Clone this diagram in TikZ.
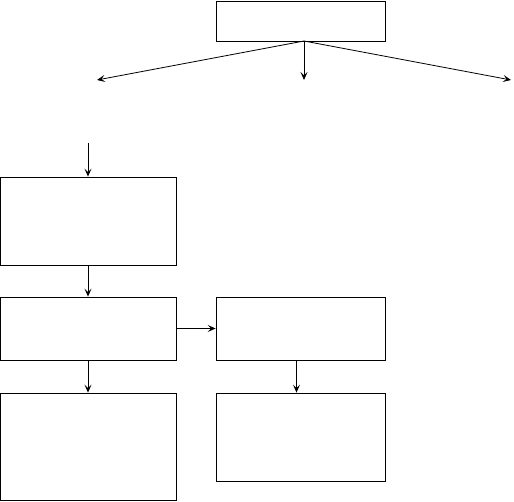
\documentclass[tikz,border=0pt]{standalone}
\usepackage{tikz}
\usetikzlibrary{positioning,arrows.meta}

\begin{document}
\begin{tikzpicture}[
    x=1pt, y=-1pt,
    every node/.style={font=\small, align=center},
    blk/.style={rectangle, draw=black, line width=0.8pt, inner sep=0pt, minimum width=169pt},
    arr/.style={-{Stealth[length=8pt, width=7pt, inset=3.5pt]}, line width=0.8pt, black}
]
\useasboundingbox (0,0) rectangle (514,502);

% top box and its fan of arrows
\node[blk, minimum height=40pt] (top) at (300.5, 21) {};
\coordinate (fan) at (304, 41);
\coordinate (outl) at (97, 80);
\coordinate (outm) at (304, 80);
\coordinate (outr) at (511, 80);
\draw[arr] (fan) -- (outl);
\draw[arr] (fan) -- (outm);
\draw[arr] (fan) -- (outr);

% left column
\coordinate (in) at (88, 143);
\node[blk, minimum width=176pt, minimum height=88pt] (first) at (88, 221) {};
\node[blk, minimum width=176pt, minimum height=63pt] (second) at (88, 328.5) {};
\node[blk, minimum width=176pt, minimum height=107pt] (fourth) at (88, 446.5) {};

% right column
\node[blk, minimum height=63pt] (third) at (300.5, 328.5) {};
\node[blk, minimum height=88pt] (fifth) at (300.5, 437) {};

% connectors
\draw[arr] (in) -- (first.north);
\draw[arr] (first.south) -- (second.north);
\draw[arr] (second.east) -- (third.west);
\draw[arr] (second.south) -- (fourth.north);
\draw[arr] ([xshift=-4]third.south) -- ([xshift=-4]fifth.north);
\end{tikzpicture}
\end{document}
